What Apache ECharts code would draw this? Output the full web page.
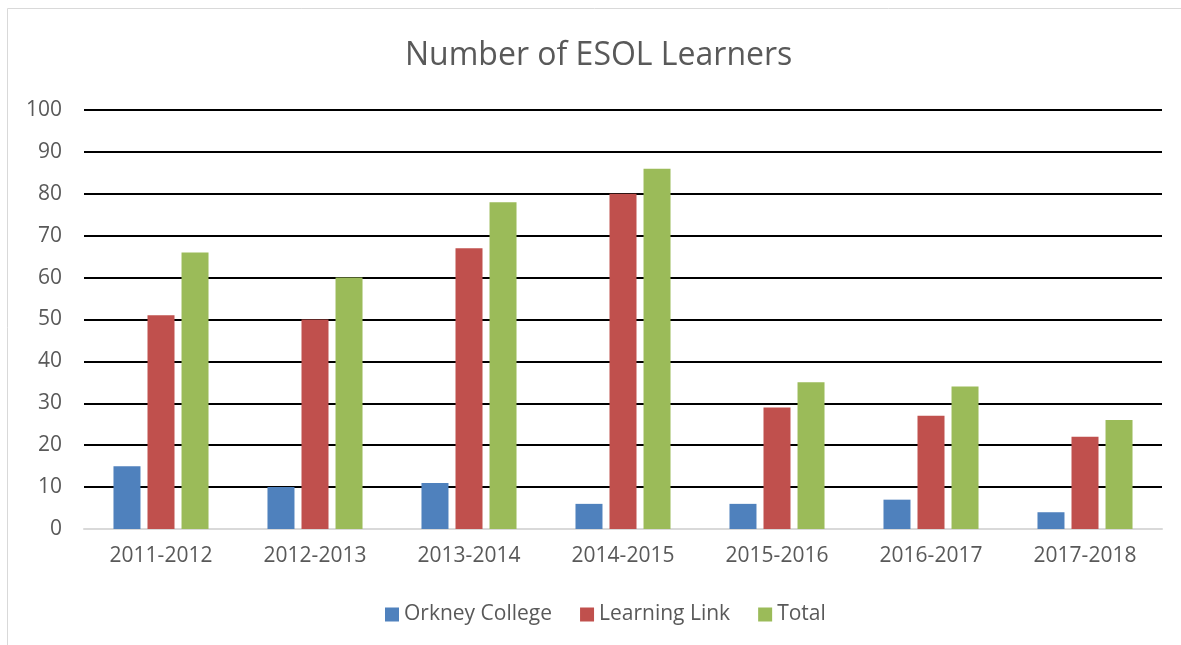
<!DOCTYPE html>
<html>
<head>
<meta charset="utf-8">
<script src="https://cdn.jsdelivr.net/npm/echarts@6/dist/echarts.min.js"></script>
<style>
  html, body { margin: 0; padding: 0; background: #fff; }
  #chart { width: 1181px; height: 645px; }
</style>
</head>
<body>
<div id="chart"></div>
<script>
const years = ['2011-2012', '2012-2013', '2013-2014', '2014-2015', '2015-2016', '2016-2017', '2017-2018']
const orkneyCollege = [15, 10, 11, 6, 6, 7, 4]
const learningLink = [51, 50, 67, 80, 29, 27, 22]
const total = [66, 60, 78, 86, 35, 34, 26]

const font = '"Open Sans", "Noto Sans", sans-serif'
const chart = echarts.init(document.getElementById('chart'))

const bar = (name, data, color) => ({
  name,
  type: 'bar',
  data,
  barWidth: 27,
  barGap: '26%',
  itemStyle: { color },
  emphasis: { disabled: true }
})

chart.setOption({
  animation: false,
  // outer chart border
  graphic: [{
    type: 'rect',
    shape: { x: 7.5, y: 8.5, width: 1190, height: 660 },
    style: { fill: 'none', stroke: '#d9d9d9', lineWidth: 1 },
    silent: true
  }],
  title: {
    text: 'Number of ESOL Learners',
    left: 400,
    top: 35,
    textStyle: { color: '#595959', fontSize: 32, fontWeight: 'normal', fontFamily: font }
  },
  legend: {
    bottom: 15,
    left: 380,
    itemWidth: 14,
    itemHeight: 14,
    itemGap: 28,
    icon: 'rect',
    textStyle: { color: '#595959', fontSize: 21, fontFamily: font }
  },
  grid: { left: 84, right: 19, top: 110, bottom: 116 },
  xAxis: {
    type: 'category',
    data: years,
    axisLine: { lineStyle: { color: '#d9d9d9', width: 2 } },
    axisTick: { show: false },
    axisLabel: { color: '#595959', fontSize: 21, fontFamily: font, margin: 17 }
  },
  yAxis: {
    type: 'value',
    min: 0,
    max: 100,
    interval: 10,
    axisLine: { show: false },
    axisTick: { show: false },
    axisLabel: { color: '#595959', fontSize: 21, fontFamily: font, margin: 22 },
    splitLine: { lineStyle: { color: '#000', width: 2 } }
  },
  series: [
    bar('Orkney College', orkneyCollege, '#4f81bd'),
    bar('Learning Link', learningLink, '#c0504d'),
    bar('Total', total, '#9bbb59')
  ]
})
</script>
</body>
</html>
